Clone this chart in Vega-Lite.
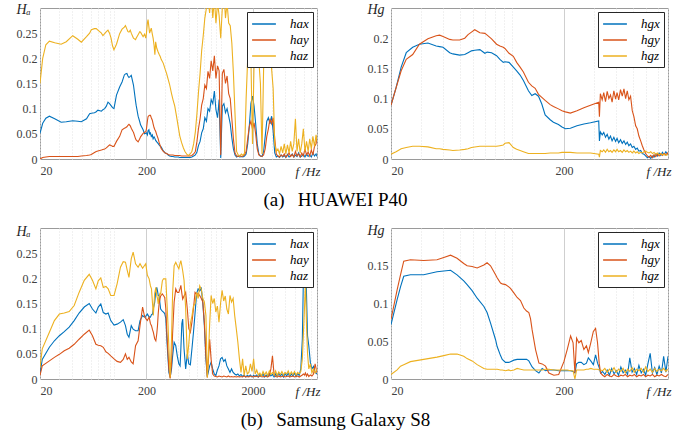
{
"$schema": "https://vega.github.io/schema/vega-lite/v6.json",
"padding": {"left": 15, "top": 1, "right": 0, "bottom": 0},
"background": "white",
"config": {
 "view": {"stroke": "#9a9a9a", "strokeWidth": 1},
 "font": "Liberation Serif, DejaVu Serif, serif",
 "axis": {"labelFont": "Liberation Serif, DejaVu Serif, serif", "labelFontSize": 12, "labelColor": "#404040", "domain": false, "ticks": false, "labelPadding": 3, "titleFont": "Liberation Serif, DejaVu Serif, serif", "titleFontStyle": "italic", "titleFontWeight": "normal", "titleFontSize": 14, "titleColor": "#262626"},
 "legend": {"orient": "top-right", "offset": 4, "title": null, "fillColor": "white", "strokeColor": "#262626", "padding": 4, "symbolType": "M-1.7,0H1.7", "symbolSize": 196, "symbolStrokeWidth": 1.5, "symbolOffset": 5, "labelOffset": 18, "labelFont": "Liberation Serif, DejaVu Serif, serif", "labelFontStyle": "italic", "labelFontSize": 13, "labelColor": "black", "rowPadding": 1}
},
"datasets": {
 "tl": [
{"f":20,"x":0.051,"y":0.0,"z":0.15},{"f":21.2,"x":0.071,"y":0.003,"z":0.2},{"f":22.7,"x":0.081,"y":0.004,"z":0.227},{"f":24.5,"x":0.085,"y":0.005,"z":0.234},{"f":27.5,"x":0.08,"y":0.005,"z":0.231},{"f":31.6,"x":0.073,"y":0.005,"z":0.228},{"f":35.3,"x":0.074,"y":0.005,"z":0.233},{"f":40.6,"x":0.076,"y":0.005,"z":0.245},{"f":45.3,"x":0.075,"y":0.005,"z":0.238},{"f":48.9,"x":0.074,"y":0.006,"z":0.232},{"f":54.7,"x":0.08,"y":0.007,"z":0.243},{"f":58.5,"x":0.09,"y":0.008,"z":0.25},{"f":60.7,"x":0.091,"y":0.009,"z":0.257},{"f":65,"x":0.092,"y":0.013,"z":0.259},{"f":67.5,"x":0.094,"y":0.015,"z":0.259},{"f":70,"x":0.097,"y":0.016,"z":0.256},{"f":75.5,"x":0.095,"y":0.018,"z":0.25},{"f":78,"x":0.098,"y":0.019,"z":0.245},{"f":81,"x":0.1,"y":0.02,"z":0.249},{"f":84,"x":0.105,"y":0.022,"z":0.253},{"f":87,"x":0.113,"y":0.025,"z":0.256},{"f":90,"x":0.11,"y":0.028,"z":0.25},{"f":93,"x":0.106,"y":0.027,"z":0.24},{"f":96,"x":0.102,"y":0.025,"z":0.225},{"f":99,"x":0.1,"y":0.025,"z":0.217},{"f":104.6,"x":0.127,"y":0.035,"z":0.228},{"f":112,"x":0.143,"y":0.045,"z":0.249},{"f":118,"x":0.153,"y":0.058,"z":0.258},{"f":124,"x":0.167,"y":0.061,"z":0.262},{"f":127,"x":0.169,"y":0.062,"z":0.265},{"f":131,"x":0.17,"y":0.064,"z":0.258},{"f":134,"x":0.165,"y":0.067,"z":0.253},{"f":137,"x":0.162,"y":0.069,"z":0.252},{"f":141,"x":0.164,"y":0.066,"z":0.256},{"f":144,"x":0.166,"y":0.061,"z":0.25},{"f":149,"x":0.152,"y":0.055,"z":0.243},{"f":151,"x":0.147,"y":0.053,"z":0.24},{"f":158,"x":0.115,"y":0.04,"z":0.237},{"f":160,"x":0.107,"y":0.038,"z":0.24},{"f":167,"x":0.085,"y":0.034,"z":0.247},{"f":173,"x":0.074,"y":0.04,"z":0.253},{"f":176,"x":0.068,"y":0.044,"z":0.252},{"f":186,"x":0.058,"y":0.051,"z":0.243},{"f":192,"x":0.05,"y":0.053,"z":0.248},{"f":197,"x":0.051,"y":0.054,"z":0.24},{"f":200,"x":0.052,"y":0.06,"z":0.25},{"f":204,"x":0.048,"y":0.075,"z":0.27},{"f":207,"x":0.056,"y":0.084,"z":0.277},{"f":211,"x":0.058,"y":0.086,"z":0.262},{"f":214,"x":0.05,"y":0.087,"z":0.25},{"f":218,"x":0.052,"y":0.087,"z":0.255},{"f":222,"x":0.045,"y":0.082,"z":0.26},{"f":227,"x":0.048,"y":0.077,"z":0.248},{"f":231,"x":0.04,"y":0.07,"z":0.24},{"f":236,"x":0.044,"y":0.062,"z":0.225},{"f":240,"x":0.041,"y":0.058,"z":0.207},{"f":244,"x":0.037,"y":0.055,"z":0.233},{"f":250,"x":0.034,"y":0.048,"z":0.22},{"f":257,"x":0.031,"y":0.041,"z":0.213},{"f":263,"x":0.028,"y":0.033,"z":0.208},{"f":270,"x":0.025,"y":0.026,"z":0.203},{"f":275,"x":0.024,"y":0.021,"z":0.198},{"f":288,"x":0.016,"y":0.015,"z":0.19},{"f":300,"x":0.012,"y":0.012,"z":0.178},{"f":309,"x":0.011,"y":0.011,"z":0.17},{"f":320,"x":0.008,"y":0.009,"z":0.158},{"f":330,"x":0.006,"y":0.008,"z":0.148},{"f":344,"x":0.005,"y":0.008,"z":0.13},{"f":355,"x":0.005,"y":0.008,"z":0.118},{"f":369,"x":0.004,"y":0.007,"z":0.105},{"f":383,"x":0.004,"y":0.007,"z":0.085},{"f":398,"x":0.004,"y":0.007,"z":0.064},{"f":411,"x":0.003,"y":0.007,"z":0.046},{"f":427,"x":0.003,"y":0.006,"z":0.033},{"f":445,"x":0.003,"y":0.006,"z":0.022},{"f":460,"x":0.003,"y":0.006,"z":0.015},{"f":480,"x":0.003,"y":0.006,"z":0.009},{"f":496,"x":0.003,"y":0.006,"z":0.007},{"f":515,"x":0.003,"y":0.006,"z":0.01},{"f":534,"x":0.004,"y":0.007,"z":0.015},{"f":555,"x":0.006,"y":0.01,"z":0.03},{"f":576,"x":0.008,"y":0.015,"z":0.054},{"f":596,"x":0.014,"y":0.035,"z":0.09},{"f":617,"x":0.027,"y":0.061,"z":0.134},{"f":638,"x":0.035,"y":0.08,"z":0.17},{"f":660,"x":0.052,"y":0.107,"z":0.215},{"f":683,"x":0.06,"y":0.12,"z":0.245},{"f":707,"x":0.082,"y":0.147,"z":0.28},{"f":732,"x":0.075,"y":0.14,"z":0.3},{"f":757,"x":0.1,"y":0.174,"z":0.32},{"f":784,"x":0.095,"y":0.16,"z":0.29},{"f":811,"x":0.118,"y":0.195,"z":0.33},{"f":840,"x":0.11,"y":0.175,"z":0.28},{"f":869,"x":0.135,"y":0.205,"z":0.32},{"f":899,"x":0.098,"y":0.16,"z":0.27},{"f":931,"x":0.082,"y":0.185,"z":0.31},{"f":963,"x":0.118,"y":0.175,"z":0.285},{"f":997,"x":0.002,"y":0.008,"z":0.24},{"f":1032,"x":0.105,"y":0.17,"z":0.3},{"f":1068,"x":0.11,"y":0.178,"z":0.33},{"f":1105,"x":0.092,"y":0.15,"z":0.28},{"f":1144,"x":0.1,"y":0.165,"z":0.31},{"f":1184,"x":0.085,"y":0.13,"z":0.27},{"f":1225,"x":0.07,"y":0.12,"z":0.265},{"f":1268,"x":0.042,"y":0.08,"z":0.23},{"f":1312,"x":0.02,"y":0.04,"z":0.17},{"f":1358,"x":0.008,"y":0.012,"z":0.09},{"f":1405,"x":0.004,"y":0.006,"z":0.015},{"f":1455,"x":0.006,"y":0.005,"z":0.008},{"f":1505,"x":0.004,"y":0.007,"z":0.006},{"f":1558,"x":0.005,"y":0.005,"z":0.01},{"f":1612,"x":0.004,"y":0.006,"z":0.007},{"f":1669,"x":0.006,"y":0.008,"z":0.012},{"f":1727,"x":0.01,"y":0.015,"z":0.12},{"f":1787,"x":0.03,"y":0.04,"z":0.2},{"f":1850,"x":0.065,"y":0.065,"z":0.19},{"f":1915,"x":0.11,"y":0.075,"z":0.2},{"f":1982,"x":0.125,"y":0.06,"z":0.03},{"f":2051,"x":0.105,"y":0.072,"z":0.19},{"f":2123,"x":0.07,"y":0.05,"z":0.2},{"f":2197,"x":0.03,"y":0.02,"z":0.185},{"f":2274,"x":0.01,"y":0.008,"z":0.195},{"f":2353,"x":0.006,"y":0.006,"z":0.15},{"f":2436,"x":0.005,"y":0.005,"z":0.01},{"f":2521,"x":0.015,"y":0.008,"z":0.18},{"f":2609,"x":0.045,"y":0.02,"z":0.195},{"f":2700,"x":0.075,"y":0.045,"z":0.19},{"f":2795,"x":0.082,"y":0.06,"z":0.185},{"f":2893,"x":0.07,"y":0.08,"z":0.195},{"f":2994,"x":0.085,"y":0.07,"z":0.18},{"f":3099,"x":0.055,"y":0.082,"z":0.14},{"f":3207,"x":0.012,"y":0.04,"z":0.03},{"f":3319,"x":0.004,"y":0.01,"z":0.015},{"f":3435,"x":0.006,"y":0.006,"z":0.02},{"f":3556,"x":0.003,"y":0.004,"z":0.01},{"f":3680,"x":0.008,"y":0.008,"z":0.025},{"f":3809,"x":0.004,"y":0.005,"z":0.012},{"f":3942,"x":0.007,"y":0.01,"z":0.03},{"f":4080,"x":0.003,"y":0.004,"z":0.01},{"f":4223,"x":0.009,"y":0.007,"z":0.028},{"f":4371,"x":0.004,"y":0.012,"z":0.012},{"f":4524,"x":0.006,"y":0.005,"z":0.035},{"f":4682,"x":0.01,"y":0.009,"z":0.015},{"f":4846,"x":0.004,"y":0.004,"z":0.03},{"f":5015,"x":0.008,"y":0.015,"z":0.08},{"f":5191,"x":0.005,"y":0.006,"z":0.015},{"f":5372,"x":0.012,"y":0.01,"z":0.04},{"f":5560,"x":0.004,"y":0.004,"z":0.012},{"f":5755,"x":0.006,"y":0.012,"z":0.03},{"f":5956,"x":0.009,"y":0.006,"z":0.06},{"f":6165,"x":0.004,"y":0.02,"z":0.015},{"f":6380,"x":0.01,"y":0.008,"z":0.035},{"f":6604,"x":0.005,"y":0.014,"z":0.015},{"f":6835,"x":0.008,"y":0.006,"z":0.04},{"f":7074,"x":0.004,"y":0.018,"z":0.02},{"f":7321,"x":0.012,"y":0.008,"z":0.045},{"f":7578,"x":0.006,"y":0.025,"z":0.025},{"f":7843,"x":0.01,"y":0.03,"z":0.048},{"f":8000,"x":0.005,"y":0.045,"z":0.035}
 ],
 "tr": [
{"f":20,"x":0.089,"y":0.089,"z":0.008},{"f":21.4,"x":0.118,"y":0.118,"z":0.012},{"f":22.9,"x":0.152,"y":0.146,"z":0.017},{"f":24.5,"x":0.176,"y":0.165,"z":0.019},{"f":26.7,"x":0.185,"y":0.173,"z":0.021},{"f":29.2,"x":0.19,"y":0.19,"z":0.021},{"f":32.7,"x":0.192,"y":0.199,"z":0.02},{"f":36.5,"x":0.187,"y":0.204,"z":0.017},{"f":38.2,"x":0.186,"y":0.205,"z":0.017},{"f":40,"x":0.185,"y":0.203,"z":0.016},{"f":43.7,"x":0.176,"y":0.198,"z":0.015},{"f":45.6,"x":0.174,"y":0.197,"z":0.014},{"f":49.9,"x":0.172,"y":0.197,"z":0.015},{"f":53.4,"x":0.173,"y":0.2,"z":0.016},{"f":55.8,"x":0.176,"y":0.206,"z":0.017},{"f":58.4,"x":0.179,"y":0.21,"z":0.019},{"f":61,"x":0.18,"y":0.214,"z":0.02},{"f":65.3,"x":0.181,"y":0.209,"z":0.021},{"f":69.8,"x":0.175,"y":0.208,"z":0.021},{"f":72,"x":0.177,"y":0.205,"z":0.021},{"f":76.3,"x":0.176,"y":0.199,"z":0.021},{"f":81.6,"x":0.171,"y":0.19,"z":0.021},{"f":85.3,"x":0.165,"y":0.187,"z":0.022},{"f":89.2,"x":0.16,"y":0.185,"z":0.023},{"f":91.2,"x":0.161,"y":0.183,"z":0.026},{"f":96.3,"x":0.16,"y":0.175,"z":0.027},{"f":102,"x":0.152,"y":0.17,"z":0.019},{"f":106.6,"x":0.146,"y":0.16,"z":0.016},{"f":111.6,"x":0.139,"y":0.152,"z":0.014},{"f":116.6,"x":0.13,"y":0.144,"z":0.012},{"f":124.7,"x":0.113,"y":0.127,"z":0.009},{"f":130.4,"x":0.105,"y":0.121,"z":0.009},{"f":136.4,"x":0.108,"y":0.117,"z":0.009},{"f":142.6,"x":0.104,"y":0.107,"z":0.009},{"f":149,"x":0.091,"y":0.102,"z":0.009},{"f":155.8,"x":0.073,"y":0.097,"z":0.009},{"f":166.6,"x":0.065,"y":0.09,"z":0.01},{"f":174,"x":0.061,"y":0.087,"z":0.01},{"f":186,"x":0.057,"y":0.083,"z":0.01},{"f":195,"x":0.053,"y":0.08,"z":0.011},{"f":204,"x":0.05,"y":0.078,"z":0.011},{"f":218,"x":0.051,"y":0.076,"z":0.011},{"f":238,"x":0.055,"y":0.08,"z":0.01},{"f":261,"x":0.058,"y":0.085,"z":0.01},{"f":285,"x":0.06,"y":0.089,"z":0.01},{"f":318,"x":0.063,"y":0.094,"z":0.008},{"f":321,"x":0.03,"y":0.07,"z":0.003},{"f":325,"x":0.045,"y":0.108,"z":0.014},{"f":333,"x":0.04,"y":0.098,"z":0.012},{"f":340,"x":0.044,"y":0.11,"z":0.015},{"f":348,"x":0.036,"y":0.095,"z":0.011},{"f":356,"x":0.041,"y":0.112,"z":0.016},{"f":364,"x":0.033,"y":0.1,"z":0.012},{"f":372,"x":0.038,"y":0.106,"z":0.014},{"f":380,"x":0.03,"y":0.094,"z":0.011},{"f":389,"x":0.036,"y":0.113,"z":0.015},{"f":398,"x":0.029,"y":0.099,"z":0.012},{"f":406,"x":0.034,"y":0.11,"z":0.016},{"f":415,"x":0.027,"y":0.098,"z":0.012},{"f":425,"x":0.032,"y":0.115,"z":0.014},{"f":435,"x":0.026,"y":0.104,"z":0.011},{"f":445,"x":0.03,"y":0.116,"z":0.015},{"f":455,"x":0.024,"y":0.1,"z":0.012},{"f":465,"x":0.028,"y":0.113,"z":0.014},{"f":475,"x":0.022,"y":0.098,"z":0.011},{"f":486,"x":0.025,"y":0.104,"z":0.013},{"f":497,"x":0.019,"y":0.08,"z":0.01},{"f":508,"x":0.021,"y":0.07,"z":0.013},{"f":520,"x":0.016,"y":0.055,"z":0.01},{"f":531,"x":0.018,"y":0.05,"z":0.012},{"f":543,"x":0.013,"y":0.038,"z":0.009},{"f":556,"x":0.014,"y":0.03,"z":0.011},{"f":568,"x":0.009,"y":0.022,"z":0.01},{"f":581,"x":0.008,"y":0.015,"z":0.012},{"f":594,"x":0.005,"y":0.009,"z":0.013},{"f":608,"x":0.002,"y":0.005,"z":0.011},{"f":621,"x":0.004,"y":0.003,"z":0.01},{"f":636,"x":0.001,"y":0.006,"z":0.012},{"f":650,"x":0.005,"y":0.002,"z":0.009},{"f":664,"x":0.003,"y":0.007,"z":0.011},{"f":680,"x":0.008,"y":0.004,"z":0.008},{"f":695,"x":0.005,"y":0.008,"z":0.01},{"f":711,"x":0.01,"y":0.005,"z":0.007},{"f":727,"x":0.006,"y":0.009,"z":0.009},{"f":743,"x":0.011,"y":0.006,"z":0.007},{"f":760,"x":0.007,"y":0.009,"z":0.008},{"f":777,"x":0.012,"y":0.007,"z":0.006},{"f":795,"x":0.008,"y":0.01,"z":0.007},{"f":800,"x":0.009,"y":0.008,"z":0.007}
 ],
 "bl": [
{"f":20,"x":0.01,"y":0.007,"z":0.023},{"f":21,"x":0.039,"y":0.026,"z":0.06},{"f":24.5,"x":0.063,"y":0.036,"z":0.093},{"f":27.3,"x":0.076,"y":0.043,"z":0.116},{"f":30.4,"x":0.086,"y":0.049,"z":0.129},{"f":33.8,"x":0.094,"y":0.056,"z":0.131},{"f":37.6,"x":0.103,"y":0.061,"z":0.134},{"f":41.9,"x":0.116,"y":0.069,"z":0.146},{"f":46.6,"x":0.131,"y":0.079,"z":0.172},{"f":52.1,"x":0.143,"y":0.089,"z":0.196},{"f":58,"x":0.15,"y":0.097,"z":0.208},{"f":62.2,"x":0.139,"y":0.086,"z":0.196},{"f":67,"x":0.131,"y":0.069,"z":0.179},{"f":70.5,"x":0.143,"y":0.067,"z":0.195},{"f":74.5,"x":0.149,"y":0.066,"z":0.201},{"f":78.6,"x":0.132,"y":0.063,"z":0.182},{"f":83.2,"x":0.129,"y":0.054,"z":0.184},{"f":87.4,"x":0.131,"y":0.051,"z":0.179},{"f":92.4,"x":0.116,"y":0.046,"z":0.166},{"f":99.2,"x":0.107,"y":0.04,"z":0.166},{"f":106,"x":0.109,"y":0.035,"z":0.189},{"f":114,"x":0.113,"y":0.033,"z":0.222},{"f":121,"x":0.118,"y":0.039,"z":0.233},{"f":127,"x":0.106,"y":0.05,"z":0.232},{"f":132,"x":0.089,"y":0.039,"z":0.216},{"f":137,"x":0.083,"y":0.043,"z":0.202},{"f":144,"x":0.106,"y":0.034,"z":0.239},{"f":150,"x":0.099,"y":0.03,"z":0.252},{"f":158,"x":0.096,"y":0.066,"z":0.229},{"f":167,"x":0.096,"y":0.076,"z":0.222},{"f":174,"x":0.116,"y":0.106,"z":0.229},{"f":184,"x":0.126,"y":0.143,"z":0.22},{"f":191,"x":0.123,"y":0.126,"z":0.225},{"f":197,"x":0.125,"y":0.12,"z":0.229},{"f":204,"x":0.129,"y":0.116,"z":0.206},{"f":212,"x":0.123,"y":0.123,"z":0.199},{"f":218,"x":0.123,"y":0.11,"z":0.185},{"f":223,"x":0.128,"y":0.106,"z":0.179},{"f":228,"x":0.129,"y":0.098,"z":0.15},{"f":232,"x":0.14,"y":0.093,"z":0.126},{"f":239,"x":0.152,"y":0.08,"z":0.17},{"f":245,"x":0.175,"y":0.076,"z":0.182},{"f":250,"x":0.182,"y":0.09,"z":0.165},{"f":254,"x":0.175,"y":0.106,"z":0.16},{"f":258,"x":0.166,"y":0.13,"z":0.149},{"f":263,"x":0.166,"y":0.15,"z":0.165},{"f":268,"x":0.15,"y":0.159,"z":0.17},{"f":272,"x":0.139,"y":0.165,"z":0.169},{"f":282,"x":0.135,"y":0.169,"z":0.195},{"f":289,"x":0.133,"y":0.166,"z":0.199},{"f":297,"x":0.13,"y":0.162,"z":0.199},{"f":304,"x":0.12,"y":0.14,"z":0.199},{"f":312,"x":0.073,"y":0.086,"z":0.15},{"f":319,"x":0.04,"y":0.05,"z":0.106},{"f":325,"x":0.013,"y":0.02,"z":0.06},{"f":334,"x":0.003,"y":0.001,"z":0.003},{"f":344,"x":0.02,"y":0.03,"z":0.08},{"f":352,"x":0.045,"y":0.09,"z":0.17},{"f":364,"x":0.073,"y":0.153,"z":0.225},{"f":377,"x":0.066,"y":0.179,"z":0.232},{"f":390,"x":0.045,"y":0.172,"z":0.225},{"f":403,"x":0.03,"y":0.172,"z":0.219},{"f":414,"x":0.026,"y":0.18,"z":0.23},{"f":421,"x":0.06,"y":0.186,"z":0.235},{"f":430,"x":0.11,"y":0.17,"z":0.225},{"f":438,"x":0.119,"y":0.159,"z":0.215},{"f":451,"x":0.06,"y":0.165,"z":0.196},{"f":467,"x":0.02,"y":0.172,"z":0.14},{"f":484,"x":0.05,"y":0.139,"z":0.04},{"f":500,"x":0.03,"y":0.1,"z":0.07},{"f":517,"x":0.028,"y":0.093,"z":0.11},{"f":535,"x":0.06,"y":0.113,"z":0.125},{"f":553,"x":0.093,"y":0.14,"z":0.145},{"f":572,"x":0.13,"y":0.172,"z":0.15},{"f":592,"x":0.17,"y":0.168,"z":0.172},{"f":612,"x":0.179,"y":0.17,"z":0.16},{"f":633,"x":0.175,"y":0.166,"z":0.185},{"f":655,"x":0.18,"y":0.16,"z":0.178},{"f":677,"x":0.15,"y":0.153,"z":0.16},{"f":700,"x":0.106,"y":0.113,"z":0.153},{"f":724,"x":0.039,"y":0.046,"z":0.126},{"f":746,"x":0.005,"y":0.003,"z":0.003},{"f":765,"x":0.015,"y":0.04,"z":0.05},{"f":785,"x":0.026,"y":0.079,"z":0.11},{"f":810,"x":0.033,"y":0.039,"z":0.166},{"f":838,"x":0.02,"y":0.01,"z":0.15},{"f":867,"x":0.01,"y":0.006,"z":0.16},{"f":897,"x":0.007,"y":0.005,"z":0.133},{"f":928,"x":0.018,"y":0.004,"z":0.145},{"f":960,"x":0.026,"y":0.006,"z":0.113},{"f":993,"x":0.04,"y":0.005,"z":0.15},{"f":1027,"x":0.043,"y":0.004,"z":0.176},{"f":1063,"x":0.035,"y":0.006,"z":0.155},{"f":1100,"x":0.039,"y":0.005,"z":0.165},{"f":1138,"x":0.026,"y":0.004,"z":0.139},{"f":1177,"x":0.02,"y":0.006,"z":0.129},{"f":1218,"x":0.013,"y":0.004,"z":0.166},{"f":1260,"x":0.02,"y":0.005,"z":0.153},{"f":1304,"x":0.013,"y":0.004,"z":0.16},{"f":1349,"x":0.01,"y":0.005,"z":0.126},{"f":1396,"x":0.008,"y":0.004,"z":0.1},{"f":1444,"x":0.01,"y":0.005,"z":0.073},{"f":1494,"x":0.006,"y":0.004,"z":0.04},{"f":1546,"x":0.009,"y":0.005,"z":0.013},{"f":1600,"x":0.005,"y":0.004,"z":0.04},{"f":1655,"x":0.008,"y":0.006,"z":0.007},{"f":1712,"x":0.004,"y":0.004,"z":0.026},{"f":1771,"x":0.007,"y":0.005,"z":0.01},{"f":1833,"x":0.005,"y":0.004,"z":0.013},{"f":1896,"x":0.008,"y":0.006,"z":0.03},{"f":1962,"x":0.004,"y":0.005,"z":0.015},{"f":2030,"x":0.007,"y":0.004,"z":0.04},{"f":2100,"x":0.005,"y":0.006,"z":0.01},{"f":2173,"x":0.008,"y":0.005,"z":0.018},{"f":2248,"x":0.004,"y":0.004,"z":0.008},{"f":2326,"x":0.009,"y":0.006,"z":0.012},{"f":2406,"x":0.005,"y":0.005,"z":0.006},{"f":2490,"x":0.01,"y":0.004,"z":0.015},{"f":2576,"x":0.004,"y":0.006,"z":0.008},{"f":2665,"x":0.008,"y":0.005,"z":0.014},{"f":2757,"x":0.005,"y":0.004,"z":0.007},{"f":2853,"x":0.011,"y":0.006,"z":0.016},{"f":2951,"x":0.006,"y":0.02,"z":0.009},{"f":3053,"x":0.009,"y":0.046,"z":0.013},{"f":3159,"x":0.004,"y":0.01,"z":0.008},{"f":3268,"x":0.01,"y":0.005,"z":0.016},{"f":3382,"x":0.005,"y":0.004,"z":0.007},{"f":3499,"x":0.012,"y":0.006,"z":0.014},{"f":3620,"x":0.006,"y":0.004,"z":0.009},{"f":3745,"x":0.01,"y":0.005,"z":0.015},{"f":3875,"x":0.004,"y":0.006,"z":0.008},{"f":4009,"x":0.011,"y":0.004,"z":0.013},{"f":4148,"x":0.006,"y":0.005,"z":0.01},{"f":4291,"x":0.012,"y":0.006,"z":0.016},{"f":4440,"x":0.005,"y":0.004,"z":0.008},{"f":4593,"x":0.01,"y":0.005,"z":0.014},{"f":4752,"x":0.006,"y":0.006,"z":0.009},{"f":4917,"x":0.012,"y":0.004,"z":0.015},{"f":5087,"x":0.005,"y":0.005,"z":0.008},{"f":5263,"x":0.011,"y":0.006,"z":0.013},{"f":5445,"x":0.007,"y":0.004,"z":0.01},{"f":5633,"x":0.02,"y":0.006,"z":0.015},{"f":5828,"x":0.08,"y":0.008,"z":0.04},{"f":5960,"x":0.2,"y":0.01,"z":0.09},{"f":6100,"x":0.239,"y":0.008,"z":0.14},{"f":6236,"x":0.269,"y":0.012,"z":0.192},{"f":6370,"x":0.172,"y":0.006,"z":0.11},{"f":6520,"x":0.086,"y":0.01,"z":0.05},{"f":6700,"x":0.066,"y":0.005,"z":0.02},{"f":6930,"x":0.033,"y":0.008,"z":0.03},{"f":7170,"x":0.02,"y":0.006,"z":0.012},{"f":7420,"x":0.025,"y":0.01,"z":0.02},{"f":7680,"x":0.013,"y":0.03,"z":0.012},{"f":8000,"x":0.01,"y":0.012,"z":0.02}
 ],
 "br": [
{"f":20,"x":0.072,"y":0.079,"z":0.006},{"f":21.7,"x":0.105,"y":0.118,"z":0.012},{"f":22.7,"x":0.122,"y":0.138,"z":0.017},{"f":23.7,"x":0.136,"y":0.156,"z":0.019},{"f":25.9,"x":0.138,"y":0.158,"z":0.023},{"f":30.9,"x":0.138,"y":0.157,"z":0.026},{"f":36.9,"x":0.142,"y":0.158,"z":0.029},{"f":40.4,"x":0.143,"y":0.161,"z":0.031},{"f":44.2,"x":0.144,"y":0.164,"z":0.033},{"f":48.2,"x":0.138,"y":0.16,"z":0.033},{"f":52.7,"x":0.13,"y":0.153,"z":0.03},{"f":55.1,"x":0.125,"y":0.15,"z":0.027},{"f":58.9,"x":0.117,"y":0.149,"z":0.024},{"f":63,"x":0.107,"y":0.147,"z":0.019},{"f":68.9,"x":0.096,"y":0.151,"z":0.014},{"f":71.9,"x":0.088,"y":0.154,"z":0.013},{"f":75.3,"x":0.074,"y":0.15,"z":0.013},{"f":80.5,"x":0.052,"y":0.138,"z":0.013},{"f":82.2,"x":0.043,"y":0.134,"z":0.013},{"f":86,"x":0.031,"y":0.127,"z":0.012},{"f":88,"x":0.026,"y":0.126,"z":0.012},{"f":91.9,"x":0.022,"y":0.125,"z":0.011},{"f":96,"x":0.022,"y":0.122,"z":0.012},{"f":98.2,"x":0.023,"y":0.12,"z":0.011},{"f":102.7,"x":0.025,"y":0.114,"z":0.012},{"f":107.3,"x":0.026,"y":0.108,"z":0.014},{"f":112.2,"x":0.026,"y":0.104,"z":0.013},{"f":117.3,"x":0.026,"y":0.094,"z":0.012},{"f":121.6,"x":0.026,"y":0.09,"z":0.012},{"f":125.4,"x":0.024,"y":0.088,"z":0.012},{"f":128.2,"x":0.02,"y":0.08,"z":0.012},{"f":131,"x":0.016,"y":0.065,"z":0.012},{"f":137.1,"x":0.011,"y":0.039,"z":0.012},{"f":143.4,"x":0.008,"y":0.021,"z":0.012},{"f":149.7,"x":0.014,"y":0.02,"z":0.012},{"f":156.6,"x":0.011,"y":0.017,"z":0.013},{"f":163.7,"x":0.012,"y":0.008,"z":0.013},{"f":175,"x":0.012,"y":0.005,"z":0.012},{"f":186.6,"x":0.011,"y":0.006,"z":0.012},{"f":200,"x":0.011,"y":0.023,"z":0.012},{"f":209,"x":0.011,"y":0.039,"z":0.012},{"f":218.7,"x":0.011,"y":0.057,"z":0.011},{"f":226,"x":0.01,"y":0.048,"z":0.011},{"f":231.6,"x":0.008,"y":0.008,"z":0.0},{"f":236.8,"x":0.02,"y":0.054,"z":0.012},{"f":244,"x":0.022,"y":0.048,"z":0.012},{"f":252,"x":0.022,"y":0.051,"z":0.012},{"f":261,"x":0.019,"y":0.039,"z":0.012},{"f":270,"x":0.021,"y":0.044,"z":0.013},{"f":277,"x":0.028,"y":0.035,"z":0.013},{"f":286,"x":0.024,"y":0.048,"z":0.014},{"f":296,"x":0.019,"y":0.063,"z":0.013},{"f":305,"x":0.032,"y":0.067,"z":0.013},{"f":313,"x":0.021,"y":0.048,"z":0.013},{"f":320,"x":0.015,"y":0.021,"z":0.012},{"f":326,"x":0.008,"y":0.008,"z":0.012},{"f":335,"x":0.01,"y":0.005,"z":0.011},{"f":345,"x":0.006,"y":0.003,"z":0.014},{"f":356,"x":0.012,"y":0.006,"z":0.009},{"f":367,"x":0.005,"y":0.004,"z":0.013},{"f":378,"x":0.014,"y":0.003,"z":0.01},{"f":390,"x":0.007,"y":0.006,"z":0.015},{"f":402,"x":0.011,"y":0.004,"z":0.009},{"f":414,"x":0.005,"y":0.003,"z":0.013},{"f":427,"x":0.016,"y":0.005,"z":0.01},{"f":440,"x":0.008,"y":0.004,"z":0.014},{"f":453,"x":0.012,"y":0.006,"z":0.008},{"f":467,"x":0.006,"y":0.003,"z":0.013},{"f":481,"x":0.028,"y":0.005,"z":0.01},{"f":496,"x":0.009,"y":0.004,"z":0.015},{"f":511,"x":0.014,"y":0.006,"z":0.009},{"f":527,"x":0.006,"y":0.003,"z":0.013},{"f":543,"x":0.018,"y":0.005,"z":0.011},{"f":560,"x":0.008,"y":0.004,"z":0.014},{"f":577,"x":0.013,"y":0.006,"z":0.009},{"f":594,"x":0.005,"y":0.003,"z":0.016},{"f":612,"x":0.02,"y":0.005,"z":0.01},{"f":631,"x":0.034,"y":0.004,"z":0.013},{"f":650,"x":0.008,"y":0.006,"z":0.009},{"f":670,"x":0.015,"y":0.003,"z":0.014},{"f":690,"x":0.006,"y":0.005,"z":0.01},{"f":711,"x":0.017,"y":0.004,"z":0.013},{"f":733,"x":0.008,"y":0.006,"z":0.011},{"f":755,"x":0.03,"y":0.004,"z":0.014},{"f":778,"x":0.009,"y":0.003,"z":0.01},{"f":800,"x":0.03,"y":0.006,"z":0.013}
 ]
},
"vconcat": [
 {
  "title": {"text": "(a)\u2002\u2009HUAWEI P40", "orient": "bottom", "anchor": "middle", "font": "Liberation Serif, DejaVu Serif, serif", "fontSize": 19, "fontWeight": "normal", "color": "black", "offset": 12, "dx": -8},
  "spacing": 45,
  "resolve": {"scale": {"color": "independent"}, "legend": {"color": "independent"}},
  "hconcat": [
   {
    "width": 277, "height": 151,
    "data": {"name": "tl"},
    "transform": [{"fold": ["x", "y", "z"], "as": ["s", "v"]}],
    "mark": {"type": "line", "strokeWidth": 1.1, "clip": true},
    "encoding": {
     "x": {"field": "f", "type": "quantitative", "scale": {"type": "log", "domain": [20, 8000], "nice": false},
      "axis": {"values": [20,30,40,50,60,70,80,90,100,200,300,400,500,600,700,800,900,1000,2000,3000,4000,5000,6000,7000,8000], "labelExpr": "datum.value==20||datum.value==200||datum.value==2000 ? format(datum.value, 'd') : ''", "labelOverlap": false, "labelFlush": true, "labelPadding": 6, "grid": true,
       "gridColor": {"condition": {"test": "datum.value==200||datum.value==2000", "value": "#cfcfcf"}, "value": "#e3e3e3"},
       "gridDash": {"condition": {"test": "datum.value==200||datum.value==2000", "value": []}, "value": [1, 2]},
       "title": "f /Hz", "titleAnchor": "end", "titleAlign": "right", "titleBaseline": "alphabetic", "titleX": 280, "titleY": 16, "titleFontSize": 13}},
     "y": {"field": "v", "type": "quantitative", "scale": {"domain": [0, 0.3], "nice": false},
      "axis": {"values": [0, 0.05, 0.1, 0.15, 0.2, 0.25], "format": "~g", "grid": false, "title": "Hₐ", "titleAngle": 0, "titleAlign": "left", "titleBaseline": "alphabetic", "titleX": -24, "titleY": 5}},
     "color": {"field": "s", "type": "nominal", "scale": {"domain": ["x", "y", "z"], "range": ["#0072BD", "#D95319", "#EDB120"]}, "legend": {"labelExpr": "'ha' + datum.label"}}
    }
   },
   {
    "width": 277, "height": 151,
    "data": {"name": "tr"},
    "transform": [{"fold": ["x", "y", "z"], "as": ["s", "v"]}],
    "mark": {"type": "line", "strokeWidth": 1.1, "clip": true},
    "encoding": {
     "x": {"field": "f", "type": "quantitative", "scale": {"type": "log", "domain": [20, 800], "nice": false},
      "axis": {"values": [20,30,40,50,60,70,80,90,100,200,300,400,500,600,700,800], "labelExpr": "datum.value==20||datum.value==200 ? format(datum.value, 'd') : ''", "labelOverlap": false, "labelFlush": true, "labelPadding": 6, "grid": true,
       "gridColor": {"condition": {"test": "datum.value==200", "value": "#cfcfcf"}, "value": "#e3e3e3"},
       "gridDash": {"condition": {"test": "datum.value==200", "value": []}, "value": [1, 2]},
       "title": "f /Hz", "titleAnchor": "end", "titleAlign": "right", "titleBaseline": "alphabetic", "titleX": 280, "titleY": 16, "titleFontSize": 13}},
     "y": {"field": "v", "type": "quantitative", "scale": {"domain": [0, 0.25], "nice": false},
      "axis": {"values": [0, 0.05, 0.1, 0.15, 0.2], "format": "~g", "grid": false, "title": "Hg", "titleAngle": 0, "titleAlign": "left", "titleBaseline": "alphabetic", "titleX": -24, "titleY": 5}},
     "color": {"field": "s", "type": "nominal", "scale": {"domain": ["x", "y", "z"], "range": ["#0072BD", "#D95319", "#EDB120"]}, "legend": {"labelExpr": "'hg' + datum.label"}}
    }
   }
  ]
 },
 {
  "title": {"text": "(b)\u2002\u2009Samsung Galaxy S8", "orient": "bottom", "anchor": "middle", "font": "Liberation Serif, DejaVu Serif, serif", "fontSize": 19, "fontWeight": "normal", "color": "black", "offset": 12, "dx": -8},
  "spacing": 45,
  "resolve": {"scale": {"color": "independent"}, "legend": {"color": "independent"}},
  "hconcat": [
   {
    "width": 277, "height": 151,
    "data": {"name": "bl"},
    "transform": [{"fold": ["x", "y", "z"], "as": ["s", "v"]}],
    "mark": {"type": "line", "strokeWidth": 1.1, "clip": true},
    "encoding": {
     "x": {"field": "f", "type": "quantitative", "scale": {"type": "log", "domain": [20, 8000], "nice": false},
      "axis": {"values": [20,30,40,50,60,70,80,90,100,200,300,400,500,600,700,800,900,1000,2000,3000,4000,5000,6000,7000,8000], "labelExpr": "datum.value==20||datum.value==200||datum.value==2000 ? format(datum.value, 'd') : ''", "labelOverlap": false, "labelFlush": true, "labelPadding": 6, "grid": true,
       "gridColor": {"condition": {"test": "datum.value==200||datum.value==2000", "value": "#cfcfcf"}, "value": "#e3e3e3"},
       "gridDash": {"condition": {"test": "datum.value==200||datum.value==2000", "value": []}, "value": [1, 2]},
       "title": "f /Hz", "titleAnchor": "end", "titleAlign": "right", "titleBaseline": "alphabetic", "titleX": 280, "titleY": 16, "titleFontSize": 13}},
     "y": {"field": "v", "type": "quantitative", "scale": {"domain": [0, 0.3], "nice": false},
      "axis": {"values": [0, 0.05, 0.1, 0.15, 0.2, 0.25], "format": "~g", "grid": false, "title": "Hₐ", "titleAngle": 0, "titleAlign": "left", "titleBaseline": "alphabetic", "titleX": -24, "titleY": 7}},
     "color": {"field": "s", "type": "nominal", "scale": {"domain": ["x", "y", "z"], "range": ["#0072BD", "#D95319", "#EDB120"]}, "legend": {"labelExpr": "'ha' + datum.label"}}
    }
   },
   {
    "width": 277, "height": 151,
    "data": {"name": "br"},
    "transform": [{"fold": ["x", "y", "z"], "as": ["s", "v"]}],
    "mark": {"type": "line", "strokeWidth": 1.1, "clip": true},
    "encoding": {
     "x": {"field": "f", "type": "quantitative", "scale": {"type": "log", "domain": [20, 800], "nice": false},
      "axis": {"values": [20,30,40,50,60,70,80,90,100,200,300,400,500,600,700,800], "labelExpr": "datum.value==20||datum.value==200 ? format(datum.value, 'd') : ''", "labelOverlap": false, "labelFlush": true, "labelPadding": 6, "grid": true,
       "gridColor": {"condition": {"test": "datum.value==200", "value": "#cfcfcf"}, "value": "#e3e3e3"},
       "gridDash": {"condition": {"test": "datum.value==200", "value": []}, "value": [1, 2]},
       "title": "f /Hz", "titleAnchor": "end", "titleAlign": "right", "titleBaseline": "alphabetic", "titleX": 280, "titleY": 16, "titleFontSize": 13}},
     "y": {"field": "v", "type": "quantitative", "scale": {"domain": [0, 0.2], "nice": false},
      "axis": {"values": [0, 0.05, 0.1, 0.15], "format": "~g", "grid": false, "title": "Hg", "titleAngle": 0, "titleAlign": "left", "titleBaseline": "alphabetic", "titleX": -24, "titleY": 6}},
     "color": {"field": "s", "type": "nominal", "scale": {"domain": ["x", "y", "z"], "range": ["#0072BD", "#D95319", "#EDB120"]}, "legend": {"labelExpr": "'hg' + datum.label"}}
    }
   }
  ]
 }
],
"spacing": 12,
"resolve": {"scale": {"color": "independent"}, "legend": {"color": "independent"}}
}
